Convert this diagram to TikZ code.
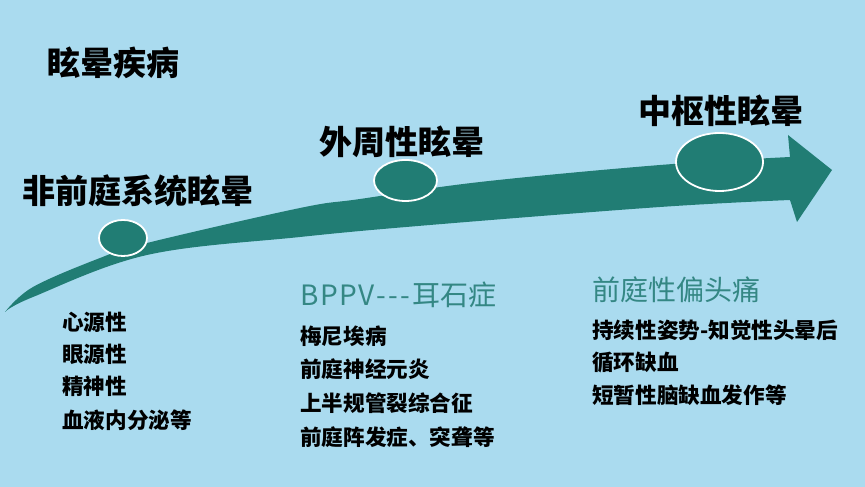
\documentclass[tikz,border=0pt]{standalone}
\usepackage{fontspec}
\setmainfont{Noto Sans CJK SC}
\usetikzlibrary{shapes.geometric}
\definecolor{bgc}{RGB}{170,219,239}
\definecolor{arrowc}{RGB}{33,125,116}
\definecolor{headc}{RGB}{52,135,132}
\tikzset{
  blob/.style={ellipse, draw=white, line width=1.8pt, fill=arrowc, inner sep=0pt},
  bigtitle/.style={font=\fontsize{33}{36}\selectfont\bfseries, text=black, inner sep=0pt},
  head/.style={font=\fontsize{28}{32}\selectfont, text=headc, anchor=west, inner sep=0pt},
  item/.style={font=\fontsize{21.6}{24}\selectfont\bfseries, text=black, anchor=west, inner sep=0pt}
}
\begin{document}
\begin{tikzpicture}[x=1pt,y=1pt]
\fill[bgc] (0,0) rectangle (865,487);
\useasboundingbox (0,0) rectangle (865,487);
% main arrow
\fill[arrowc] plot[smooth, tension=0.6] coordinates {(5,175) (33,200) (100,229) (147,244) (300,279) (360,288) (480,305) (660,322) (790,330)}
  -- (788,352) -- (832,317) -- (797,265)
  -- plot[smooth, tension=0.6] coordinates {(790,287) (660,280) (430,262) (300,250) (147,232) (33,190) (5,175)} -- cycle;
% ellipses
\node[blob, minimum width=48pt, minimum height=36pt] (e1) at (123,249) {};
\node[blob, minimum width=63pt, minimum height=41pt] (e2) at (405.5,306.5) {};
\node[blob, minimum width=87pt, minimum height=58pt] (e3) at (719.5,325) {};
% titles
\node[bigtitle] (t0) at (113,424) {眩晕疾病};
\node[bigtitle] (t1) at (138,296) {非前庭系统眩晕};
\node[bigtitle] (t2) at (402,345) {外周性眩晕};
\node[bigtitle] (t3) at (721,376) {中枢性眩晕};
% left list
\node[item] (l1) at (62,165) {心源性};
\node[item] (l2) at (62,133) {眼源性};
\node[item] (l3) at (62,101) {精神性};
\node[item] (l4) at (62,67) {血液内分泌等};
% middle
\node[head] (h2) at (300,192) {B\kern1.5ptP\kern1.5ptP\kern1.5ptV\kern2pt-\kern2pt-\kern2pt-\kern3pt耳石症};
\node[item] (m1) at (300,151) {梅尼埃病};
\node[item] (m2) at (300,118) {前庭神经元炎};
\node[item] (m3) at (300,84) {上半规管裂综合征};
\node[item] (m4) at (300,50) {前庭阵发症、突聋等};
% right
\node[head] (h3) at (592,197) {前庭性偏头痛};
\node[item] (r1) at (592,157) {持续性姿势-知觉性头晕后};
\node[item] (r2) at (592,125) {循环缺血};
\node[item] (r3) at (592,92) {短暂性脑缺血发作等};
\end{tikzpicture}
\end{document}
